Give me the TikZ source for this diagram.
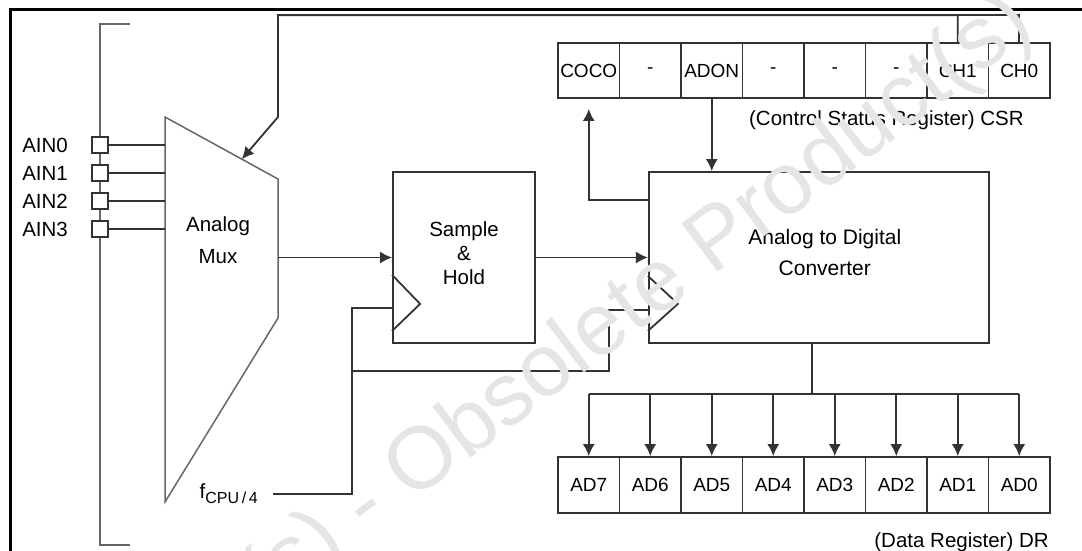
\documentclass[tikz,border=0pt]{standalone}
\usepackage{fontspec}
\setmainfont{Liberation Sans}
\usetikzlibrary{arrows.meta,positioning,calc}

\begin{document}
\begin{tikzpicture}[x=1pt, y=-1pt,
		font=\fontsize{20.5}{24}\selectfont,
		wire/.style = {draw=black!80, line width=1.8pt},
		thinw/.style = {draw=black!60, line width=1.5pt},
		blk/.style  = {wire, rectangle, inner sep=0pt},
		pin/.style  = {wire, fill=white, rectangle, minimum size=16pt, inner sep=0pt},
		cell/.style = {wire, rectangle, minimum width=61.5pt, minimum height=55pt, inner sep=0pt, font=\fontsize{19}{22}\selectfont},
		lbl/.style  = {inner sep=0pt, align=center},
		>={Latex[length=12pt, width=12pt]}]

	\useasboundingbox (0,0) rectangle (1082,550);

	% frame of the figure
	\draw[line width=2.6pt] (10.5,560) -- (10.5,9.5) -- (1090,9.5);

	% analog input bus with the pins
	\draw[thinw] (130,24) -- (100,24) -- (100,545) -- (130,545);
	\foreach \i/\y in {0/145,1/173,2/201,3/229} {
		\node[pin] (ain\i) at (100,\y) {};
		\node[lbl, left=23pt of ain\i] (ainl\i) {AIN\i};
	}

	% the multiplexer
	\draw[thinw] (165,117) coordinate (m1) -- (278,179) coordinate (m2)
		-- (278,318) coordinate (m3) -- (165,502) coordinate (m4) -- cycle;
	\node[lbl, font=\fontsize{20.5}{32}\selectfont] (mux) at (218,240) {Analog\\Mux};
	\foreach \i in {0,...,3}
	\draw[wire] (ain\i.east) -- (ain\i.east -| m1);

	% sample & hold and the converter
	\node[blk, minimum width=142pt, minimum height=171pt] (sh) at (464,257.5) {};
	\node[lbl, font=\fontsize{20.5}{24}\selectfont] (shl) at ([yshift=4pt]sh.center) {Sample\\\&\\Hold};
	\node[blk, minimum width=340pt, minimum height=171pt, right=112pt of sh] (adc) {};
	\node[lbl, font=\fontsize{21}{31}\selectfont] (adcl) at ([xshift=6pt, yshift=5pt]adc.center) {Analog to Digital\\Converter};

	% clock inputs
	\draw[wire] ($(sh.south west)+(0,-69)$) -- ++(28,29) -- ($(sh.south west)+(0,-13)$);
	\draw[wire] ($(adc.south west)+(0,-68)$) -- ++(30,28) -- ($(adc.south west)+(0,-13)$);

	% control status register and data register
	\foreach \t [count=\i] in {COCO,-,ADON,-,-,-,CH1,CH0}
	\node[cell] (csr\i) at (527.25+61.5*\i,70.5) {\t};
	\foreach \t [count=\i] in {7,6,...,0}
	\node[cell, minimum height=56pt] (dr\i) at (527.25+61.5*\i,485) {AD\t};
	\node[lbl, anchor=north east] (csrl) at ($(csr8.south east)+(-27,12)$) {(Control Status Register) CSR};
	\node[lbl, anchor=north east] (drl) at ($(dr8.south east)+(-2,19)$) {(Data Register) DR};
	\node[lbl, anchor=east] (fcpu) at (258,494) {f\raisebox{-0.45ex}{\fontsize{16}{16}\selectfont CPU\,/\,4}};

	% signal path
	\draw[wire, ->] (m2 |- sh.west) -- (sh.west);
	\draw[wire, ->] (sh.east) -- (adc.west);

	% clock lines
	\coordinate (ck) at (352,371);
	\draw[wire] ([xshift=15pt]fcpu.east) -| (ck) |- ($(sh.south west)+(0,-36)$);
	\draw[wire] (ck) -| ($(adc.south west)+(-39,-34)$) -- ($(adc.south west)+(0,-34)$);

	% channel select
	\coordinate (sel) at (m1 -| m2);
	\draw[wire] (csr8.north) |- ($(csr7.north)+(0,-27)$);
	\draw[wire, ->] (csr7.north) -- ++(0,-27) -| (sel) -- ($(m1)!0.68!(m2)$);

	% status and control
	\draw[wire, ->] ($(adc.north west)+(0,29)$) -| ($(csr1.south)+(0,10)$);
	\draw[wire, ->] (csr3.south) -- (csr3.south |- adc.north);

	% data bus to the data register
	\draw[wire] ([xshift=-7pt]adc.south) -- ++(0,50) coordinate (bus);
	\draw[wire] (bus -| dr1) -- (bus -| dr8);
	\foreach \i in {1,...,8}
	\draw[wire, ->] (bus -| dr\i) -- (dr\i.north);

	% watermark
	\node[text=gray!20, font=\fontsize{88}{90}\selectfont, rotate=37, inner sep=0pt] (wm) at (367,508) {Obsolete Product(s) - Obsolete Product(s)};
\end{tikzpicture}
\end{document}
